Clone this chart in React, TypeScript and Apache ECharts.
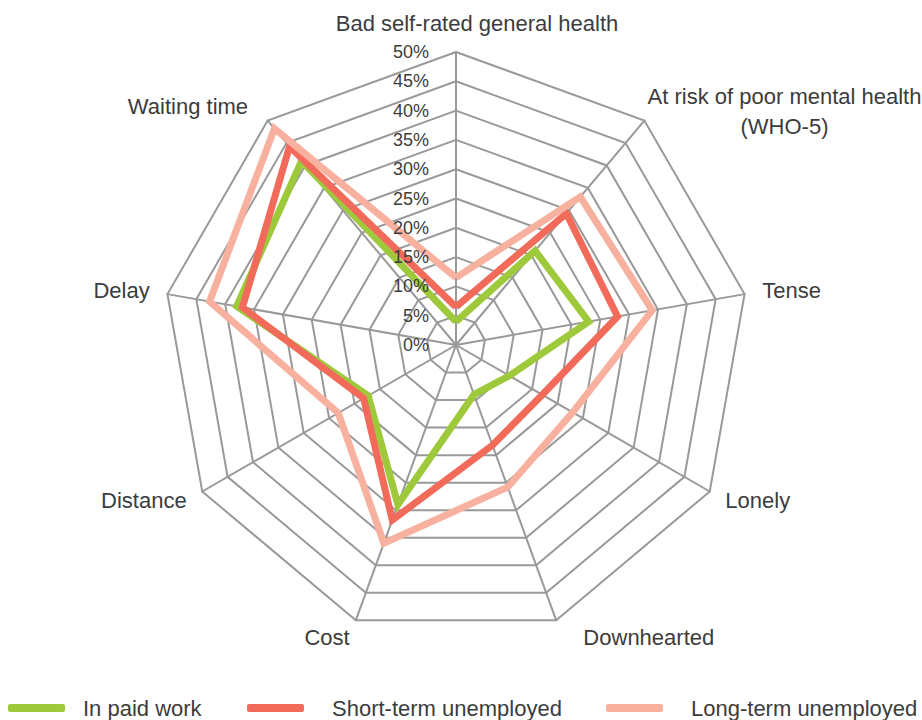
import React, { useEffect, useRef } from 'react';
import * as echarts from 'echarts';

// indicators listed clockwise from the top
const indicatorNames = [
  'Bad self-rated general health',
  'At risk of poor mental health\n(WHO-5)',
  'Tense',
  'Lonely',
  'Downhearted',
  'Cost',
  'Distance',
  'Delay',
  'Waiting time',
];
const seriesNames = ['In paid work', 'Short-term unemployed', 'Long-term unemployed'];
const inPaidWork = [4, 21, 23, 10.5, 9, 29, 17.3, 38, 41];
const shortTermUnemployed = [6.5, 29.3, 28, 17, 18.2, 31.8, 18.2, 37, 44.2];
const longTermUnemployed = [11.5, 33, 34, 23, 25.8, 36, 23.2, 42.7, 48.2];
const axisMax = 50;
const axisSplits = 10;

const colors = ['#9dc93b', '#f26b5a', '#f8b09f'];
const FONT = 'Liberation Sans, Arial, sans-serif';
const TEXT = '#3c3c3c';
const GRID = '#999999';

// per-indicator label nudges (style only), keyed by clockwise index
const nameTweaks: Record<number, any> = {
  0: { nameTextStyle: { padding: [0, 0, 0, 42] } },
  1: { nameGap: 5, nameTextStyle: { padding: [0, 0, 10, 0] } },
  4: { nameTextStyle: { padding: [0, 0, 0, 21] } },
  8: { nameTextStyle: { padding: [0, 8, 0, 0] } },
};

export default function App() {
  const ref = useRef<HTMLDivElement>(null);
  useEffect(() => {
    if (!ref.current) return;
    const chart = echarts.init(ref.current, undefined, { renderer: 'svg' });
    // ECharts lays indicators out counter-clockwise; reorder to draw clockwise
    const order = indicatorNames.map((_, i) => (i === 0 ? 0 : indicatorNames.length - i));
    const indicator = order.map((i) => ({
      name: indicatorNames[i],
      max: axisMax,
      min: 0,
      ...(nameTweaks[i] || {}),
    }));
    // overlay radar: same geometry, only the percentage labels, drawn above the lines
    const labelIndicator = order.map((i) => {
      const o: any = { name: '', max: axisMax, min: 0 };
      if (i === 0) {
        o.axisLabel = {
          show: true,
          formatter: '{value}%',
          fontSize: 18,
          color: TEXT,
          fontFamily: FONT,
          margin: 27,
        };
      }
      return o;
    });
    const seriesData = [inPaidWork, shortTermUnemployed, longTermUnemployed];
    const common = {
      center: [456, 345],
      radius: 293,
      startAngle: 90,
      splitNumber: axisSplits,
      shape: 'polygon',
    };
    const option: any = {
      animation: false,
      backgroundColor: '#ffffff',
      color: colors,
      legend: seriesNames.map((n, i) => ({
        data: [n],
        left: [3, 242, 601][i],
        top: 692,
        itemWidth: 57,
        itemHeight: 8,
        icon: 'roundRect',
        textStyle: {
          fontSize: 22,
          color: TEXT,
          fontFamily: FONT,
          padding: [0, 0, 0, [13, 23, 23][i]],
        },
      })),
      radar: [
        {
          ...common,
          indicator,
          axisName: {
            color: TEXT,
            fontSize: 22,
            fontFamily: FONT,
            formatter: (v: string) =>
              v.indexOf('\n') >= 0 ? v.split('\n').map((s) => `{c|${s}}`).join('\n') : v,
            rich: {
              c: { align: 'center', fontSize: 22, lineHeight: 30, color: TEXT, fontFamily: FONT },
            },
          },
          axisNameGap: 18,
          axisLine: { lineStyle: { color: GRID, width: 2 } },
          splitLine: { lineStyle: { color: GRID, width: 2 } },
          splitArea: { show: false },
          axisTick: { show: false },
          axisLabel: { show: false },
        },
        {
          ...common,
          z: 10,
          indicator: labelIndicator,
          axisName: { show: false },
          axisLine: { show: false },
          splitLine: { show: false },
          splitArea: { show: false },
          axisTick: { show: false },
          axisLabel: { show: false },
        },
      ],
      series: [
        {
          type: 'radar',
          radarIndex: 0,
          symbol: 'none',
          data: seriesData.map((vals, i) => ({
            name: seriesNames[i],
            value: order.map((k) => vals[k]),
            lineStyle: { color: colors[i], width: 7, join: 'miter' },
            itemStyle: { color: colors[i] },
          })),
        },
      ],
    };
    chart.setOption(option);
    return () => chart.dispose();
  }, []);
  return (
    <div
      ref={ref}
      style={{ position: 'absolute', left: 0, top: 0, width: 922, height: 720 }}
    />
  );
}
